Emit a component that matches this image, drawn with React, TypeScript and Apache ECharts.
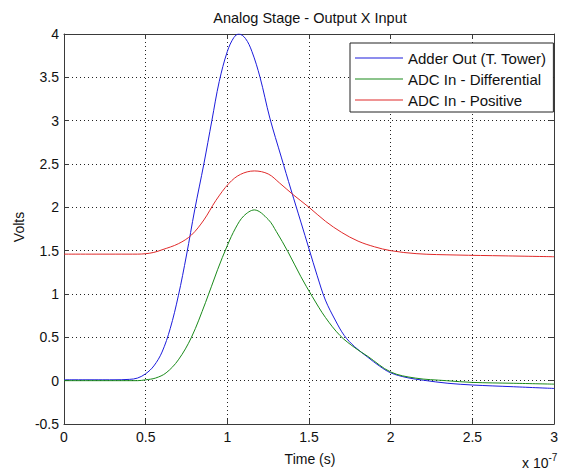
import React, { useEffect, useRef } from "react";
import * as echarts from "echarts";

// time in units of 1e-7 s
const adderTime = [0, 0.3, 0.4, 0.45, 0.5, 0.55, 0.6, 0.65, 0.7, 0.75, 0.8, 0.856, 0.905, 0.95, 1.0, 1.04, 1.07, 1.11, 1.15, 1.2, 1.26, 1.33, 1.39, 1.45, 1.5, 1.55, 1.6, 1.66, 1.716, 1.78, 1.86, 1.93, 2.0, 2.1, 2.2, 2.35, 2.5, 2.75, 3.0];
const adderOut = [0.01, 0.01, 0.015, 0.03, 0.08, 0.17, 0.33, 0.6, 0.98, 1.45, 1.97, 2.5, 3.0, 3.45, 3.8, 3.96, 4.0, 3.95, 3.8, 3.5, 3.03, 2.58, 2.2, 1.83, 1.52, 1.21, 0.93, 0.7, 0.52, 0.39, 0.27, 0.17, 0.09, 0.035, 0.005, -0.03, -0.05, -0.07, -0.09];

const diffTime = [0, 0.45, 0.5, 0.56, 0.625, 0.7, 0.78, 0.866, 0.94, 1.0, 1.05, 1.1, 1.165, 1.25, 1.3, 1.37, 1.45, 1.52, 1.6, 1.69, 1.78, 1.86, 2.0, 2.15, 2.34, 2.5, 2.75, 3.0];
const adcDiff = [0.0, 0.0, 0.01, 0.03, 0.09, 0.24, 0.5, 0.9, 1.28, 1.56, 1.76, 1.9, 1.97, 1.86, 1.72, 1.49, 1.2, 0.97, 0.73, 0.52, 0.38, 0.28, 0.1, 0.03, 0.0, -0.02, -0.03, -0.04];

const posTime = [0, 0.45, 0.5, 0.55, 0.6, 0.7, 0.78, 0.856, 0.93, 1.01, 1.08, 1.165, 1.25, 1.32, 1.4, 1.5, 1.6, 1.7, 1.8, 1.9, 2.0, 2.16, 2.4, 2.7, 3.0];
const adcPos = [1.46, 1.46, 1.465, 1.48, 1.51, 1.58, 1.68, 1.854, 2.08, 2.277, 2.38, 2.42, 2.385, 2.28, 2.15, 2.0, 1.84, 1.71, 1.61, 1.545, 1.5, 1.465, 1.45, 1.44, 1.43];

const seriesNames = ["Adder Out (T. Tower)", "ADC In - Differential", "ADC In - Positive"];
const seriesColors = ["#1c1cdc", "#1a8a1a", "#e02a2a"];

const xTicks = { min: 0, max: 3, interval: 0.5 };
const yTicks = { min: -0.5, max: 4, interval: 0.5 };

const pair = (xs: number[], ys: number[]) => xs.map((x, i) => [x, ys[i]]);

const FONT = "Liberation Sans, Arial, Helvetica, sans-serif";

export default function App() {
  const ref = useRef<HTMLDivElement>(null);
  useEffect(() => {
    if (!ref.current) return;
    const chart = echarts.init(ref.current, undefined, { renderer: "svg" });
    const axisColor = "#3a3a3a";
    const gridLine = { show: true, lineStyle: { color: "#222", type: [1, 3] as any, width: 1 } };
    const common = {
      type: "value" as const,
      axisLine: { show: true, onZero: false, lineStyle: { color: axisColor, width: 1 } },
      axisTick: { show: true, inside: true, length: 5, lineStyle: { color: axisColor } },
    };
    const data = [pair(adderTime, adderOut), pair(diffTime, adcDiff), pair(posTime, adcPos)];
    chart.setOption({
      animation: false,
      backgroundColor: "#ffffff",
      grid: { left: 64, right: 3, top: 34, bottom: 48, containLabel: false },
      xAxis: [
        {
          ...common,
          ...xTicks,
          position: "bottom",
          splitLine: gridLine,
          axisLabel: { color: "#111", fontSize: 14, fontFamily: FONT, margin: 6 },
        },
        {
          ...common,
          ...xTicks,
          position: "top",
          splitLine: { show: false },
          axisLabel: { show: false },
        },
      ],
      yAxis: [
        {
          ...common,
          ...yTicks,
          position: "left",
          splitLine: gridLine,
          axisLabel: { color: "#111", fontSize: 14, fontFamily: FONT, margin: 5 },
        },
        {
          ...common,
          ...yTicks,
          position: "right",
          splitLine: { show: false },
          axisLabel: { show: false },
        },
      ],
      legend: {
        orient: "vertical",
        left: 350,
        top: 43,
        padding: [7, 7, 4, 5],
        itemGap: 5,
        itemWidth: 48,
        itemHeight: 1,
        borderColor: "#222",
        borderWidth: 1,
        backgroundColor: "#ffffff",
        textStyle: { color: "#111", fontSize: 15, lineHeight: 16, fontFamily: FONT },
        data: seriesNames.map((n) => ({ name: n, icon: "rect" })),
      },
      series: seriesNames.map((name, i) => ({
        name,
        type: "line",
        data: data[i],
        symbol: "none",
        smooth: 0.35,
        clip: true,
        lineStyle: { color: seriesColors[i], width: 1 },
        itemStyle: { color: seriesColors[i] },
      })),
      graphic: [
        {
          type: "text",
          x: 310,
          y: 18,
          style: { text: "Analog Stage - Output X Input", fill: "#111", fontSize: 14.5, fontFamily: FONT, align: "center", verticalAlign: "middle" },
        },
        {
          type: "text",
          x: 310,
          y: 459,
          style: { text: "Time (s)", fill: "#111", fontSize: 14, fontFamily: FONT, align: "center", verticalAlign: "middle" },
        },
        {
          type: "text",
          x: 19,
          y: 227,
          rotation: Math.PI / 2,
          style: { text: "Volts", fill: "#111", fontSize: 14, fontFamily: FONT, align: "center", verticalAlign: "middle" },
        },
        {
          type: "text",
          x: 522,
          y: 463,
          style: {
            text: "x 10{sup|-7}",
            fill: "#111",
            fontSize: 14,
            fontFamily: FONT,
            align: "left",
            verticalAlign: "middle",
            rich: { sup: { fontSize: 10, fontFamily: FONT, fill: "#111", verticalAlign: "top", padding: [0, 0, 12, 0] } },
          },
        },
      ],
    });
    return () => chart.dispose();
  }, []);
  return <div ref={ref} style={{ position: "fixed", left: 0, top: 0, width: 561, height: 472 }} />;
}
